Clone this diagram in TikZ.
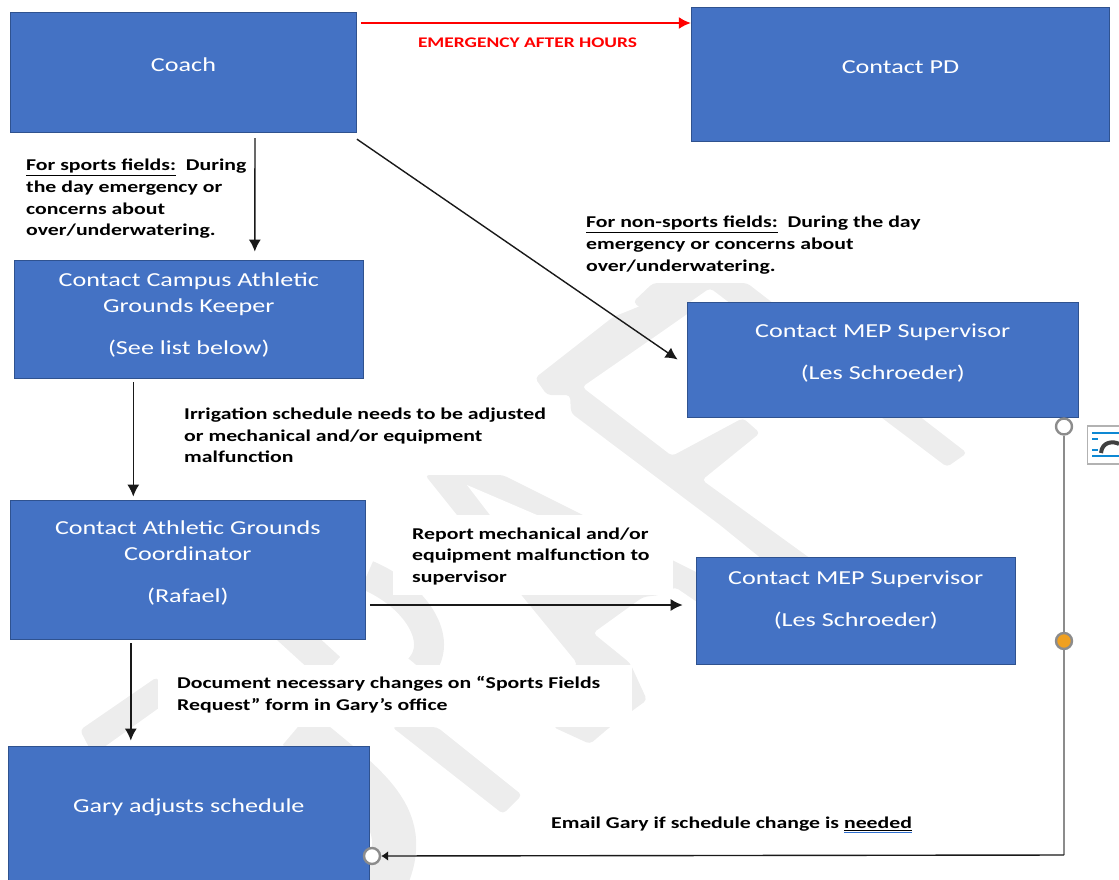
\documentclass[tikz,border=0pt]{standalone}
\usepackage{fontspec}
\setmainfont{Carlito}
\newfontfamily\boxfont[FakeStretch=1.32]{Carlito}
\newfontfamily\labelfont[FakeStretch=1.32]{Carlito}
\usetikzlibrary{arrows.meta}
\definecolor{boxblue}{HTML}{4472C4}
\definecolor{boxedge}{HTML}{2F528F}
\definecolor{markgrey}{HTML}{EDEDED}
\definecolor{handlegrey}{HTML}{8C8C8C}
\definecolor{handleorange}{HTML}{F0A020}
\definecolor{markblue}{HTML}{2F6FD0}
\newlength\markwd
\newcommand\markword[1]{\settowidth\markwd{#1}\underline{#1}\llap{\textcolor{markblue}{\rule[-4.5pt]{\markwd}{1.2pt}}}}
\tikzset{
boxnode/.style={draw=boxedge, line width=0.8pt, fill=boxblue, text=white, align=center, font=\fontsize{19.8}{26}\boxfont},
labelnode/.style={anchor=north west, inner sep=0pt, align=left, font=\fontsize{16.5}{21.7}\labelfont\bfseries},
arrowline/.style={-{Latex[length=12pt,width=12pt]}, line width=1.4pt, black!90},
handlenode/.style={circle, draw=handlegrey, line width=2.4pt, fill=white, minimum size=16pt, inner sep=0pt},
markpart/.style={fill=markgrey, rounded corners=4pt}
}
\begin{document}
\begin{tikzpicture}[x=1pt,y=-1pt]
\useasboundingbox (0,0) rectangle (1119,879);
% watermark
\fill[markpart] (653,283) -- (747,283) -- (967,453) -- (947,467) -- (710,288) -- (660,323) -- (633,302) -- cycle;
\fill[markpart] (613,317) -- (535,378) -- (547,395) -- (570,395) -- (571,413) -- (720,525) -- (800,590) -- (840,580) -- (702,480) -- (760,433) -- (743,418) -- (672,456) -- (582,387) -- (660,333) -- (690,312) -- (680,290) -- cycle;
\fill[markpart] (425,475) -- (503,475) -- (583,515) -- (700,574) -- (700,604) -- (675,587) -- (660,595) -- (643,597) -- (593,633) -- (630,663) -- (647,700) -- (610,727) -- (590,744) -- (553,727) -- (577,663) -- (523,597) -- (457,515) -- cycle;
\fill[white] (467,485) -- (490,515) -- (537,515) -- cycle;
\fill[markpart] (392,727) -- (437,727) -- (522,795) -- (503,814) -- cycle;
\fill[markpart] (80,730) -- (157,677) -- (170,700) -- (93,755) -- cycle;
\draw[markgrey, line width=44pt] (297,728) .. controls (370,790) and (425,820) .. (375,900);
\draw[markgrey, line width=30pt] (285,627) -- (330,668);
\draw[markgrey, line width=30pt] (367,575) .. controls (415,595) and (445,640) .. (420,668);
% text boxes
\fill[white] (393,515) rectangle (673,595);
\fill[white] (158,665) rectangle (632,727);
% boxes
\node[boxnode, minimum width=346pt, minimum height=120.5pt, text depth=15pt] (coach) at (183.5,72.5) {Coach};
\node[boxnode, minimum width=418.5pt, minimum height=134pt, text depth=14pt] (contactpd) at (900.5,74) {Contact PD};
\node[boxnode, minimum width=349.5pt, minimum height=118pt, text depth=10pt] (keeper) at (188.8,319) {Contact Campus Athletic\\Grounds Keeper\\[16pt](See list below)};
\node[boxnode, minimum width=391.5pt, minimum height=115pt, text depth=16pt] (mepone) at (882.8,359.5) {Contact MEP Supervisor\\[16pt](Les Schroeder)};
\node[boxnode, minimum width=355.5pt, minimum height=139pt, text depth=16pt] (rafael) at (187.8,569.5) {Contact Athletic Grounds\\Coordinator\\[16pt](Rafael)};
\node[boxnode, minimum width=319.5pt, minimum height=107pt, text depth=24pt] (meptwo) at (855.8,610.5) {Contact MEP Supervisor\\[16pt](Les Schroeder)};
\node[boxnode, minimum width=361.5pt, minimum height=134pt, text depth=14pt] (gary) at (188.8,813) {Gary adjusts schedule};
% labels
\node[inner sep=0pt, text=red, font=\fontsize{14.7}{18}\labelfont\bfseries] (emergency) at (527.5,42.5) {EMERGENCY AFTER HOURS};
\node[labelnode] (sportstext) at (26,159) {\underline{For sports fields:}\ \ During\\the day emergency or\\concerns about\\over/underwatering.};
\node[labelnode] (nonsportstext) at (586,216) {\underline{For non-sports fields:}\ \ During the day\\emergency or concerns about\\over/underwatering.};
\node[labelnode] (irrigationtext) at (184,407.5) {Irrigation schedule needs to be adjusted\\or mechanical and/or equipment\\malfunction};
\node[labelnode] (reporttext) at (412,527.5) {Report mechanical and/or\\equipment malfunction to\\supervisor};
\node[labelnode] (documenttext) at (177,676.5) {Document necessary changes on “Sports Fields\\Request” form in Gary’s office};
\node[labelnode] (emailtext) at (551,816.5) {Email Gary if schedule change is \markword{needed}};
% resize handles
\node[handlenode] (handletop) at (1064,426.5) {};
\node[handlenode, fill=handleorange] (handlemid) at (1064,641) {};
\node[handlenode, fill=white] (handleend) at (372,856) {};
\coordinate (handlecorner) at (1064,855);
% layout icon
\node[draw=black!30, fill=white, line width=1.5pt, minimum width=40pt, minimum height=38pt, inner sep=0pt] (iconbox) at (1107.5,445) {};
\draw[cyan!70!blue, line width=1.2pt] (1092,433) -- (1119,433);
\draw[cyan!70!blue, line width=1.2pt] (1092,456) -- (1119,456);
\draw[cyan!70!blue, line width=1.2pt] (1092,439) -- (1098,439);
\draw[cyan!70!blue, line width=1.2pt] (1092,450) -- (1098,450);
\draw[black!75, line width=4pt] (1101,453) .. controls (1102,441) and (1114,441) .. (1119,444);
% connectors
\draw[arrowline, red, line width=1.8pt] ([xshift=4pt,yshift=49.5pt]coach.east) -- ([yshift=51pt]contactpd.west);
\draw[arrowline] ([xshift=71.5pt,yshift=-5pt]coach.south) -- ([xshift=66pt,yshift=8pt]keeper.north);
\draw[arrowline] ([yshift=-6pt]coach.south east) -- ([xshift=-9pt]mepone.west);
\draw[arrowline] ([xshift=-55.5pt,yshift=-4pt]keeper.south) -- ([xshift=-54.5pt,yshift=3pt]rafael.north);
\draw[arrowline] ([xshift=-57pt,yshift=-4pt]rafael.south) -- ([xshift=-58pt,yshift=5pt]gary.north);
\draw[arrowline] ([xshift=4pt,yshift=-35.5pt]rafael.east) -- ([xshift=-13pt,yshift=5.5pt]meptwo.west);
\draw[handlegrey, line width=2.8pt] (handletop) -- (handlemid) -- (handlecorner);
\draw[arrowline, -{Latex[length=7pt,width=10pt]}] (handlecorner) -- (handleend);
\end{tikzpicture}
\end{document}
